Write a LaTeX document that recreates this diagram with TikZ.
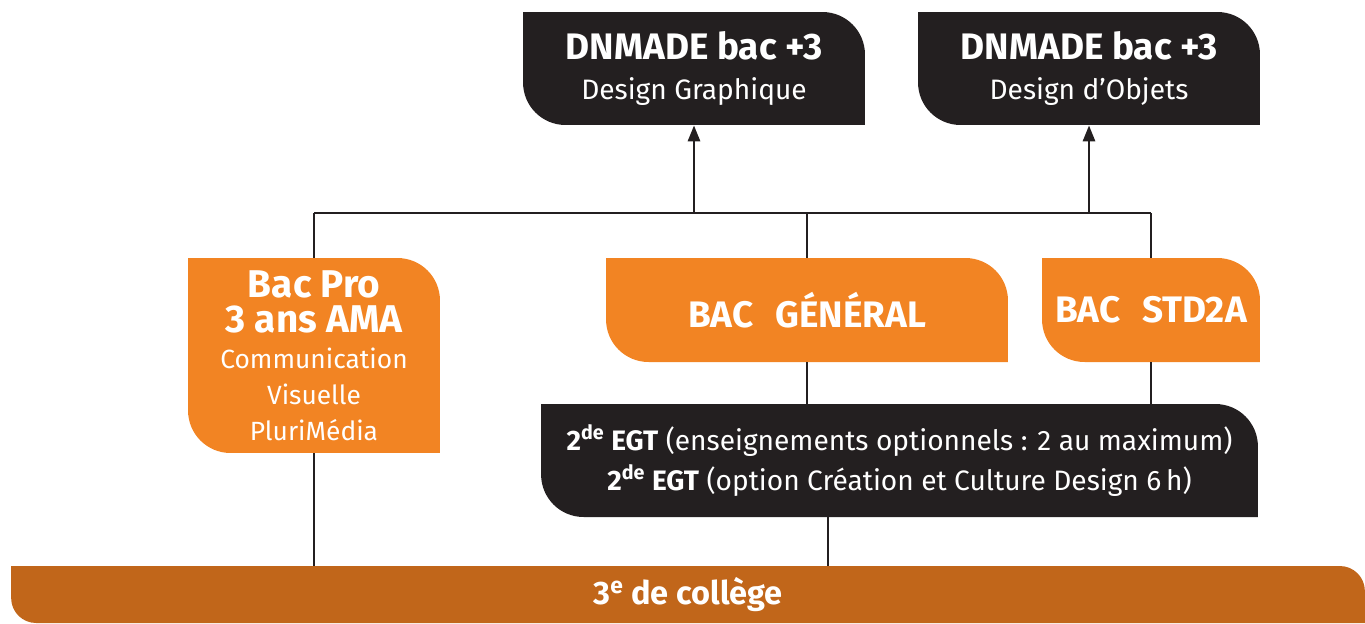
\documentclass[tikz,border=0pt]{standalone}
\usepackage{fontspec}
\setmainfont{Fira Sans}
\usetikzlibrary{arrows.meta}
\definecolor{orangebox}{HTML}{F28423}
\definecolor{darkbox}{HTML}{231F20}
\definecolor{barbrown}{HTML}{C1661A}
\tikzset{
  leaf r/.store in=\leafr, leaf r=0.85cm,
  leaf/.style={inner sep=0pt, text=white, align=center,
    path picture={\fill[#1] (path picture bounding box.north west)
      -- ([xshift=-\leafr]path picture bounding box.north east)
      arc[start angle=90,end angle=0,radius=\leafr]
      -- (path picture bounding box.south east)
      -- ([xshift=\leafr]path picture bounding box.south west)
      arc[start angle=270,end angle=180,radius=\leafr] -- cycle;}},
  link/.style={line width=1.6pt, draw=darkbox},
}
\newcommand\boldline[2][21]{{\fontsize{#1}{23}\selectfont\bfseries #2}}
\begin{document}
\begin{tikzpicture}[x=0.02cm, y=-0.02cm]
  \useasboundingbox (0,0) rectangle (1365,623);
  % top row
  \node[leaf=darkbox, minimum width=6.84cm, minimum height=2.26cm,
        font=\fontsize{16}{23}\selectfont] (dngraph) at (694,68.5)
        {\boldline{DNMADE bac +3}\\Design Graphique};
  \node[leaf=darkbox, minimum width=6.84cm, minimum height=2.26cm,
        font=\fontsize{16}{23}\selectfont] (dnobj) at (1089,68.5)
        {\boldline{DNMADE bac +3}\\Design d'Objets};
  % bac
  \node[leaf=orangebox, minimum width=5.04cm, minimum height=3.9cm,
        font=\fontsize{15}{20.4}\selectfont] (probox) at (314,355.5)
        {\boldline[22]{Bac Pro}\\\boldline[22]{3 ans AMA}\\Communication\\Visuelle\\PluriMédia};
  \node[leaf=orangebox, minimum width=8.04cm, minimum height=2.08cm,
        font=\fontsize{21}{24}\selectfont\bfseries] (gen) at (807,310)
        {BAC\hspace{0.6em}GÉNÉRAL};
  \node[leaf=orangebox, minimum width=4.36cm, minimum height=2.08cm,
        font=\fontsize{21}{24}\selectfont\bfseries] (std) at (1151,310)
        {BAC\hspace{0.6em}STD2A};
  \node[leaf=darkbox, minimum width=14.34cm, minimum height=2.26cm,
        font=\fontsize{16}{23}\selectfont] (egt) at (899.5,460.5)
        {\textbf{2\textsuperscript{de} EGT} (enseignements optionnels : 2 au maximum)\\
         \textbf{2\textsuperscript{de} EGT} (option Création et Culture Design 6\,h)};
  \node[leaf=barbrown, leaf r=0.5cm, minimum width=27.08cm, minimum height=1.14cm,
        font=\fontsize{18.5}{23}\selectfont\bfseries] (bar) at (688,594.5)
        {3\textsuperscript{e} de collège};
  % connectors
  \coordinate (rail) at (0,213);
  \draw[link] (probox.north |- rail) -- (std.north |- rail);
  \foreach \n in {probox,gen,std}
    \draw[link] (\n.north) -- (\n.north |- rail);
  \foreach \n in {dngraph,dnobj}
    \draw[link, -{Triangle[length=0.32cm,width=0.24cm]}] (\n.south |- rail) -- (\n.south);
  \foreach \n in {gen,std}
    \draw[link] (\n.south) -- (\n.south |- egt.north);
  \draw[link] (probox.south) -- (probox.south |- bar.north);
  \draw[link] ([xshift=-1.43cm]egt.south) -- ([xshift=-1.43cm]egt.south |- bar.north);
\end{tikzpicture}
\end{document}
